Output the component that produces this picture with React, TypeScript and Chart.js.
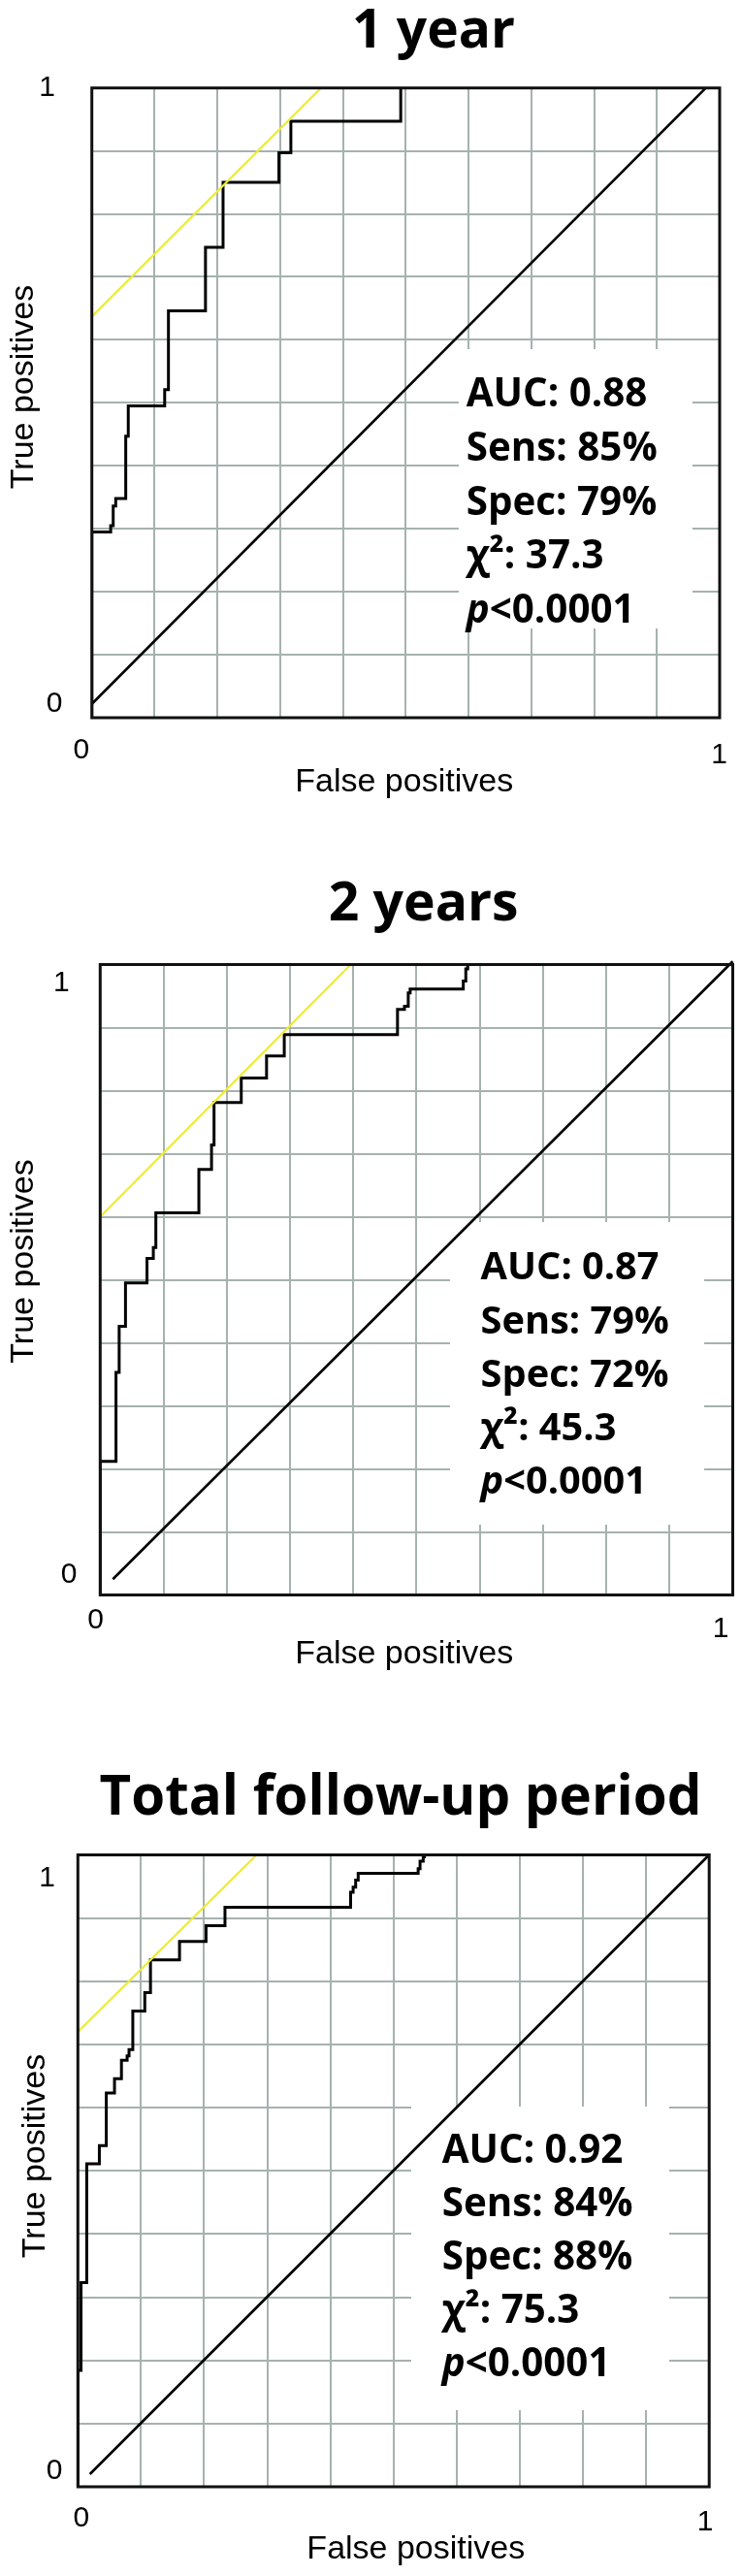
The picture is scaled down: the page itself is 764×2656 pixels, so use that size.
import React, { useEffect, useRef } from "react";
import { Chart, registerables } from "chart.js";

Chart.register(...registerables);

// ---------- DATA ----------
const tickLabels = ["0", "1"];
const xAxisTitle = "False positives";
const yAxisTitle = "True positives";

// Panel 1: 1 year
const title1 = "1 year";
const fpr1 = [0, 0, 0.030, 0.034, 0.038, 0.054, 0.058, 0.116, 0.122, 0.181, 0.209, 0.298, 0.317, 0.492];
const tpr1 = [0, 0.295, 0.305, 0.336, 0.348, 0.447, 0.495, 0.521, 0.646, 0.747, 0.850, 0.897, 0.947, 1.0];
const chanceX1 = [0, 0.978];
const chanceY1 = [0.022, 1];
const tangentX1 = [0, 0.365];
const tangentY1 = [0.637, 1];
const stats1 = ["AUC: 0.88", "Sens: 85%", "Spec: 79%", "χ²: 37.3", "p<0.0001"];

// Panel 2: 2 years
const title2 = "2 years";
const fpr2 = [0, 0, 0.025, 0.030, 0.040, 0.074, 0.084, 0.088, 0.156, 0.176, 0.180, 0.223, 0.263, 0.291, 0.470, 0.481, 0.487, 0.490, 0.574, 0.578, 0.581];
const tpr2 = [0, 0.212, 0.353, 0.426, 0.495, 0.534, 0.551, 0.606, 0.675, 0.714, 0.781, 0.820, 0.855, 0.889, 0.929, 0.934, 0.955, 0.961, 0.974, 0.993, 1.0];
const chanceX2 = [0.02, 1.0];
const chanceY2 = [0.025, 1.005];
const tangentX2 = [0, 0.396];
const tangentY2 = [0.600, 1];
const stats2 = ["AUC: 0.87", "Sens: 79%", "Spec: 72%", "χ²: 45.3", "p<0.0001"];

// Panel 3: Total follow-up period
const title3 = "Total follow-up period";
const fpr3 = [0, 0, 0.005, 0.014, 0.034, 0.045, 0.058, 0.069, 0.078, 0.081, 0.087, 0.106, 0.115, 0.161, 0.203, 0.233, 0.432, 0.436, 0.440, 0.444, 0.539, 0.542, 0.547, 0.549];
const tpr3 = [0, 0.184, 0.323, 0.511, 0.540, 0.623, 0.646, 0.675, 0.682, 0.692, 0.753, 0.782, 0.834, 0.863, 0.888, 0.917, 0.941, 0.949, 0.960, 0.971, 0.978, 0.990, 0.997, 1.0];
const chanceX3 = [0.019, 1];
const chanceY3 = [0.02, 1];
const tangentX3 = [0, 0.283];
const tangentY3 = [0.720, 1];
const stats3 = ["AUC: 0.92", "Sens: 84%", "Spec: 88%", "χ²: 75.3", "p<0.0001"];

// ---------- LAYOUT (page coordinates) ----------
const layouts = [
  {
    top: 0, height: 830,
    box: { l: 94.7, t: 90.7, r: 742, b: 740 },
    title: { cx: 447, base: 49.3, w: 168 },
    yTicks: [{ x: 56, y: 723 }, { x: 48.7, y: 88.4 }],
    xTicks: [{ x: 83.8, y: 771.3 }, { x: 741.7, y: 776.6 }],
    xTitle: { cx: 416.7, cy: 804 },
    yTitle: { cx: 21.9, cy: 399 },
    stats: { x: 480.7, base: 419.3, gap: 55.7, w: 186.7 },
    whiteBox: { x0: 473, y0: 360, x1: 714, y1: 648 },
  },
  {
    top: 830, height: 910,
    box: { l: 103.3, t: 994.5, r: 755.5, b: 1644.5 },
    title: { cx: 436.6, base: 949, w: 196 },
    yTicks: [{ x: 71, y: 1621.5 }, { x: 63.4, y: 1011 }],
    xTicks: [{ x: 98.6, y: 1668.5 }, { x: 743.2, y: 1677 }],
    xTitle: { cx: 416.7, cy: 1703 },
    yTitle: { cx: 22, cy: 1300.5 },
    stats: { x: 495.6, base: 1319.3, gap: 55.2, w: 184 },
    whiteBox: { x0: 464, y0: 1260, x1: 726, y1: 1572 },
  },
  {
    top: 1740, height: 916,
    box: { l: 80.3, t: 1912.5, r: 731.2, b: 2564 },
    title: { cx: 413, base: 1871.4, w: 621 },
    yTicks: [{ x: 56, y: 2545 }, { x: 48.7, y: 1934.5 }],
    xTicks: [{ x: 83.8, y: 2594 }, { x: 727, y: 2598.6 }],
    xTitle: { cx: 428.8, cy: 2626 },
    yTitle: { cx: 34.1, cy: 2223 },
    stats: { x: 455.7, base: 2229.5, gap: 55.2, w: 186.6 },
    whiteBox: { x0: 424, y0: 2172, x1: 690, y1: 2485 },
  },
];

const panels = [
  { title: title1, fpr: fpr1, tpr: tpr1, cx: chanceX1, cy: chanceY1, tx: tangentX1, ty: tangentY1, stats: stats1, layout: layouts[0] },
  { title: title2, fpr: fpr2, tpr: tpr2, cx: chanceX2, cy: chanceY2, tx: tangentX2, ty: tangentY2, stats: stats2, layout: layouts[1] },
  { title: title3, fpr: fpr3, tpr: tpr3, cx: chanceX3, cy: chanceY3, tx: tangentX3, ty: tangentY3, stats: stats3, layout: layouts[2] },
];

const PAGE_W = 764;
const GRID_COLOR = "#a6b2b0";
const BOLD_FAMILY = '"Open Sans", "Noto Sans", sans-serif';
const SANS_FAMILY = '"Liberation Sans", Arial, sans-serif';

function zip(xs: number[], ys: number[]) {
  return xs.map((x, i) => ({ x, y: ys[i] }));
}

function fitSize(ctx: CanvasRenderingContext2D, text: string, font: (s: number) => string, target: number) {
  ctx.font = font(100);
  const w = ctx.measureText(text).width;
  return (100 * target) / w;
}

function makeOverlay(panel: any) {
  const L = panel.layout;
  const oy = L.top;
  return {
    id: "rocOverlay",
    beforeDatasetsDraw(chart: any) {
      const ctx = chart.ctx as CanvasRenderingContext2D;
      const wb = L.whiteBox;
      ctx.save();
      ctx.fillStyle = "#ffffff";
      ctx.fillRect(wb.x0, wb.y0 - oy, wb.x1 - wb.x0, wb.y1 - wb.y0);
      ctx.restore();
    },
    afterDatasetsDraw(chart: any) {
      const ctx = chart.ctx as CanvasRenderingContext2D;
      const { left, top, right, bottom } = chart.chartArea;
      ctx.save();
      ctx.strokeStyle = "#111";
      ctx.lineWidth = 3;
      ctx.strokeRect(left, top, right - left, bottom - top);
      ctx.restore();
    },
    afterDraw(chart: any) {
      const ctx = chart.ctx as CanvasRenderingContext2D;
      ctx.save();
      ctx.fillStyle = "#000";
      // Title
      const tFont = (s: number) => `bold ${s}px ${BOLD_FAMILY}`;
      const ts = fitSize(ctx, panel.title, tFont, L.title.w);
      ctx.font = tFont(ts);
      ctx.textAlign = "center";
      ctx.textBaseline = "alphabetic";
      ctx.fillText(panel.title, L.title.cx, L.title.base - oy);

      // Tick labels
      const tickSize = 30;
      ctx.font = `${tickSize}px ${SANS_FAMILY}`;
      ctx.textAlign = "center";
      L.yTicks.forEach((p: any, i: number) => {
        ctx.fillText(tickLabels[i], p.x, p.y - oy + tickSize * 0.358);
      });
      L.xTicks.forEach((p: any, i: number) => {
        ctx.fillText(tickLabels[i], p.x, p.y - oy + tickSize * 0.358);
      });

      // Axis titles
      const axSize = 34;
      ctx.font = `${axSize}px ${SANS_FAMILY}`;
      ctx.fillText(xAxisTitle, L.xTitle.cx, L.xTitle.cy - oy + axSize * 0.36);
      ctx.save();
      ctx.translate(L.yTitle.cx, L.yTitle.cy - oy);
      ctx.rotate(-Math.PI / 2);
      ctx.fillText(yAxisTitle, 0, axSize * 0.36);
      ctx.restore();

      // Stats
      const sFont = (s: number) => `bold ${s}px ${BOLD_FAMILY}`;
      const ss = fitSize(ctx, panel.stats[0], sFont, L.stats.w);
      ctx.textAlign = "left";
      panel.stats.forEach((line: string, i: number) => {
        const y = L.stats.base - oy + i * L.stats.gap;
        if (line.startsWith("p<")) {
          ctx.font = `italic bold ${ss}px ${BOLD_FAMILY}`;
          ctx.fillText("p", L.stats.x, y);
          const pw = ctx.measureText("p").width;
          ctx.font = sFont(ss);
          ctx.fillText(line.slice(1), L.stats.x + pw, y);
        } else {
          ctx.font = sFont(ss);
          ctx.fillText(line, L.stats.x, y);
        }
      });
      ctx.restore();
    },
  };
}

function RocPanel({ panel }: { panel: any }) {
  const ref = useRef<HTMLCanvasElement | null>(null);
  useEffect(() => {
    const canvas = ref.current;
    if (!canvas) return;
    const L = panel.layout;
    const gridColor = (c: any) => {
      const v = c.tick ? c.tick.value : 0.5;
      return Math.abs(v) < 1e-6 || Math.abs(v - 1) < 1e-6 ? "rgba(0,0,0,0)" : GRID_COLOR;
    };
    const chart = new Chart(canvas, {
      type: "scatter",
      data: {
        datasets: [
          {
            data: zip(panel.tx, panel.ty),
            showLine: true,
            borderColor: "#ecec34",
            borderWidth: 2.2,
            pointRadius: 0,
          },
          {
            data: zip(panel.cx, panel.cy),
            showLine: true,
            borderColor: "#000",
            borderWidth: 2.6,
            pointRadius: 0,
            clip: false,
          },
          {
            data: zip(panel.fpr, panel.tpr),
            showLine: true,
            stepped: "before",
            borderColor: "#000",
            borderWidth: 3,
            pointRadius: 0,
          },
        ],
      } as any,
      options: {
        animation: false,
        responsive: false,
        events: [],
        layout: {
          padding: {
            left: L.box.l,
            right: PAGE_W - L.box.r,
            top: L.box.t - L.top,
            bottom: L.top + L.height - L.box.b,
          },
        },
        plugins: {
          legend: { display: false },
          tooltip: { enabled: false },
          title: { display: false },
        },
        scales: {
          x: {
            type: "linear",
            min: 0,
            max: 1,
            ticks: { display: false, stepSize: 0.1 },
            grid: { color: gridColor, lineWidth: 2, drawTicks: false },
            border: { display: false },
            afterFit: (s: any) => { s.height = 0; },
          },
          y: {
            type: "linear",
            min: 0,
            max: 1,
            ticks: { display: false, stepSize: 0.1 },
            grid: { color: gridColor, lineWidth: 2, drawTicks: false },
            border: { display: false },
            afterFit: (s: any) => { s.width = 0; },
          },
        },
      } as any,
      plugins: [makeOverlay(panel)],
    });
    return () => chart.destroy();
  }, [panel]);
  const L = panel.layout;
  return (
    <canvas
      ref={ref}
      width={PAGE_W}
      height={L.height}
      style={{ position: "absolute", left: 0, top: L.top, width: PAGE_W, height: L.height, display: "block" }}
    />
  );
}

export default function App() {
  return (
    <div style={{ position: "absolute", left: 0, top: 0, width: 764, height: 2656, background: "#fff", overflow: "hidden" }}>
      {panels.map((p, i) => (
        <RocPanel key={i} panel={p} />
      ))}
    </div>
  );
}
